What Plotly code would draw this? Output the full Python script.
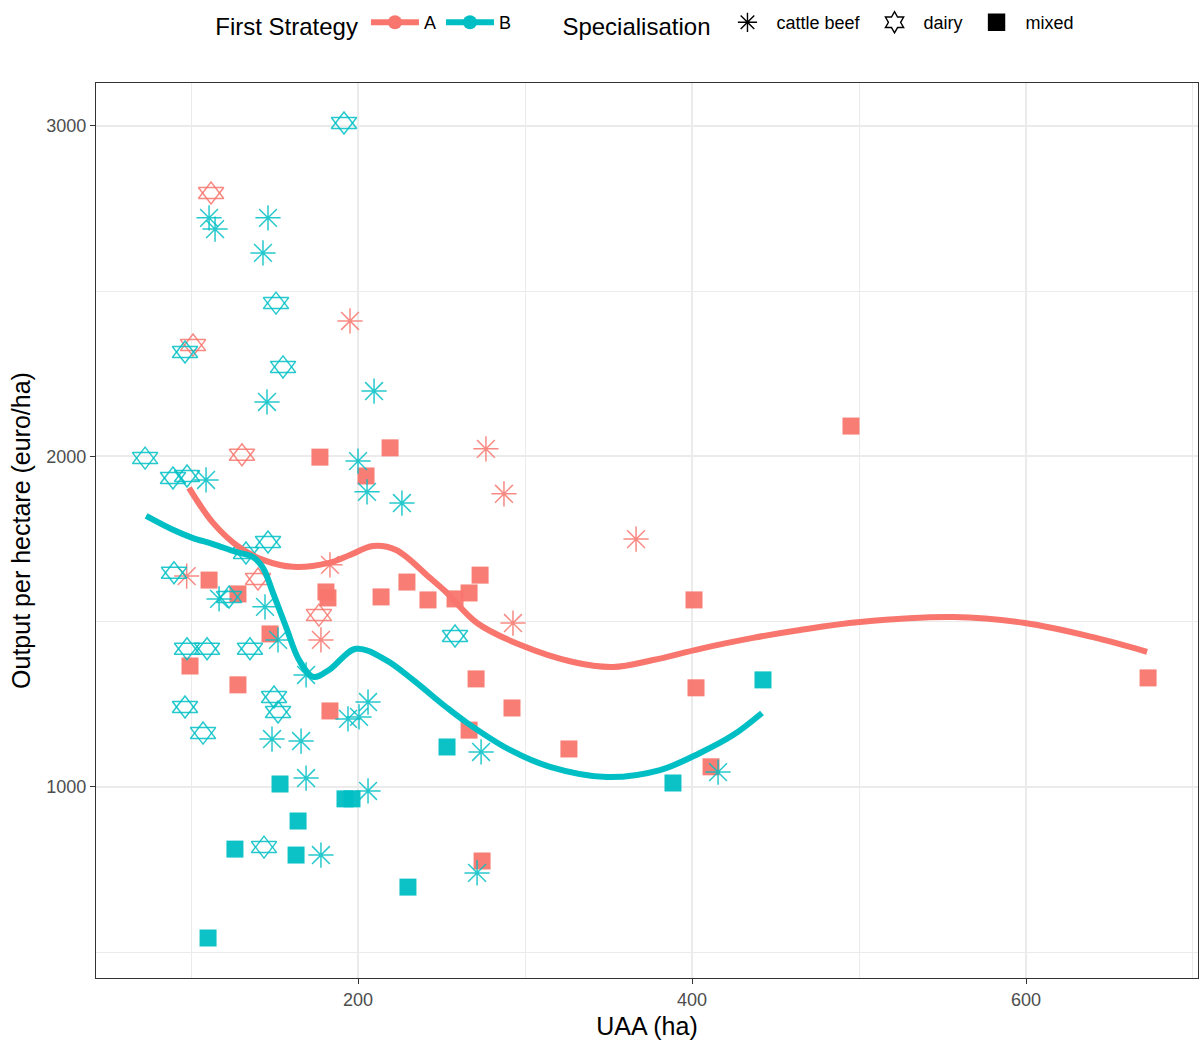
import plotly.graph_objects as go

# ---------------- data ----------------
a_beef_uaa = [195.2, 276.6, 287.4, 366.5, 292.8, 183.2, 177.8, 97.4]
a_beef_out = [2410, 2023, 1887, 1750, 1496, 1672, 1445, 1638]

a_dairy_uaa = [112.0, 101.2, 130.5, 140.1, 176.6]
a_dairy_out = [2797, 2337, 2005, 1629, 1520]

a_mixed_uaa = [495.2, 673.1, 401.2, 402.4, 411.4, 326.3, 292.2, 270.7, 266.5, 274.3,
               273.1, 266.5, 258.1, 241.9, 229.3, 213.8, 219.2, 204.8, 177.2, 180.8,
               182.0, 183.2, 147.3, 128.1, 110.8, 99.4, 128.1]
a_mixed_out = [2092, 1330, 1566, 1300, 1061, 1115, 1239, 1327, 1172, 776,
               1641, 1587, 1569, 1566, 1620, 1575, 2026, 1941, 1998, 1590,
               1572, 1230, 1463, 1584, 1626, 1366, 1309]

b_beef_uaa = [110.8, 114.4, 146.1, 143.1, 145.5, 209.6, 200.0, 205.4, 226.3, 109.0,
              116.8, 144.3, 152.1, 168.9, 194.0, 200.6, 206.0, 148.5, 165.9, 168.9,
              206.0, 177.8, 273.7, 271.3, 415.6]
b_beef_out = [2722, 2688, 2722, 2616, 2165, 2198, 1986, 1893, 1859, 1929,
              1569, 1545, 1445, 1339, 1206, 1212, 1257, 1145, 1139, 1027,
              988, 794, 1106, 740, 1045]

b_dairy_uaa = [191.6, 96.4, 150.9, 155.1, 72.5, 89.2, 97.6, 89.8, 132.9, 146.1,
               122.8, 97.6, 109.6, 135.3, 96.4, 107.2, 149.7, 152.1, 258.1, 143.7]
b_dairy_out = [3009, 2316, 2464, 2271, 1995, 1935, 1941, 1648, 1708, 1741,
               1575, 1418, 1418, 1418, 1242, 1163, 1272, 1227, 1457, 818]

b_mixed_uaa = [110.2, 126.3, 162.9, 164.1, 153.3, 192.2, 196.4, 229.9, 253.3, 388.6, 442.5]
b_mixed_out = [543, 812, 794, 897, 1009, 964, 964, 697, 1121, 1012, 1324]

# smoothed (loess) curves
a_curve_uaa = [98.8, 113.2, 128.7, 143.1, 161.1, 182.6, 195.2, 209.0, 222.8, 242.5,
               252.7, 271.3, 297.0, 328.7, 352.7, 376.6, 404.8, 436.5, 464.7, 500.6,
               556.9, 599.4, 639.5, 672.5]
a_curve_out = [1905, 1799, 1726, 1687, 1666, 1678, 1702, 1729, 1717, 1635,
               1590, 1496, 1430, 1378, 1363, 1384, 1418, 1451, 1475, 1499,
               1514, 1496, 1454, 1409]

b_curve_uaa = [73.1, 89.2, 101.2, 113.2, 126.9, 137.1, 143.1, 149.1, 156.9, 164.7,
               173.1, 182.6, 198.8, 216.8, 232.9, 252.7, 265.3, 291.0, 315.0, 349.1,
               380.8, 404.8, 424.6, 441.9]
b_curve_out = [1820, 1778, 1753, 1735, 1711, 1696, 1663, 1587, 1484, 1384,
               1333, 1354, 1418, 1384, 1324, 1242, 1194, 1112, 1061, 1030,
               1051, 1103, 1157, 1224]

strategies = ["A", "B"]
specialisations = ["cattle beef", "dairy", "mixed"]
x_ticks = [200, 400, 600]
y_ticks = [1000, 2000, 3000]

# ---------------- styles ----------------
RED = "#F8766D"
CYAN = "#00BFC4"
FONT = "Liberation Sans, Arial, sans-serif"

fig = go.Figure()


def add_beef(x, y, col):
    fig.add_trace(go.Scatter(
        x=x, y=y, mode="markers", showlegend=False, hoverinfo="x+y",
        marker=dict(symbol="asterisk-open", size=21, color=col, opacity=0.85,
                    line=dict(color=col, width=1.5))))


def add_dairy(x, y, col):
    for sym in ["triangle-up-open", "triangle-down-open"]:
        fig.add_trace(go.Scatter(
            x=x, y=y, mode="markers", showlegend=False, hoverinfo="x+y",
            marker=dict(symbol=sym, size=22, color=col, opacity=0.85,
                        line=dict(color=col, width=1.5))))


def add_mixed(x, y, col):
    fig.add_trace(go.Scatter(
        x=x, y=y, mode="markers", showlegend=False, hoverinfo="x+y",
        marker=dict(symbol="square", size=17, color=col, opacity=0.95,
                    line=dict(width=0))))


add_beef(a_beef_uaa, a_beef_out, RED)
add_dairy(a_dairy_uaa, a_dairy_out, RED)
add_mixed(a_mixed_uaa, a_mixed_out, RED)
add_beef(b_beef_uaa, b_beef_out, CYAN)
add_dairy(b_dairy_uaa, b_dairy_out, CYAN)
add_mixed(b_mixed_uaa, b_mixed_out, CYAN)

fig.add_trace(go.Scatter(x=a_curve_uaa, y=a_curve_out, mode="lines", showlegend=False,
                         line=dict(color=RED, width=6, shape="spline")))
fig.add_trace(go.Scatter(x=b_curve_uaa, y=b_curve_out, mode="lines", showlegend=False,
                         line=dict(color=CYAN, width=6, shape="spline")))

# legend entries: First Strategy
for name, col in zip(strategies, [RED, CYAN]):
    fig.add_trace(go.Scatter(
        x=[None], y=[None], mode="lines+markers", name=name, legend="legend",
        line=dict(color=col, width=6),
        marker=dict(symbol="circle", size=14, color=col)))

# legend entries: Specialisation
for name, sym in zip(specialisations, ["asterisk-open", "hexagram-open", "square"]):
    fig.add_trace(go.Scatter(
        x=[None], y=[None], mode="markers", name=name, legend="legend2",
        marker=dict(symbol=sym, size=16, color="black",
                    line=dict(color="black", width=1.4))))

axis_common = dict(
    showline=True, linecolor="#333333", linewidth=1.2, mirror=True,
    ticks="outside", ticklen=5, tickwidth=1.2, tickcolor="#333333",
    showgrid=True, gridcolor="#EBEBEB", gridwidth=1.8, zeroline=False,
    tickfont=dict(family=FONT, size=18, color="#4D4D4D"),
    automargin=False,
)

fig.update_layout(
    width=1203, height=1046,
    paper_bgcolor="white", plot_bgcolor="white",
    margin=dict(l=96, r=5, t=83, b=68, autoexpand=False),
    font=dict(family=FONT, color="black"),
    xaxis=dict(range=[43.1, 703], tickvals=x_ticks,
               minor=dict(dtick=100, tick0=0, showgrid=True, gridcolor="#EBEBEB",
                          gridwidth=1, ticks=""),
               title=dict(text="UAA (ha)", font=dict(family=FONT, size=25, color="black"),
                          standoff=8),
               **axis_common),
    yaxis=dict(range=[422, 3130], tickvals=y_ticks,
               minor=dict(dtick=500, tick0=0, showgrid=True, gridcolor="#EBEBEB",
                          gridwidth=1, ticks=""),
               title=dict(text="Output per hectare (euro/ha)",
                          font=dict(family=FONT, size=25, color="black"), standoff=8),
               **axis_common),
    legend=dict(orientation="h", x=0.1064, y=1.0647, xanchor="left", yanchor="middle",
                title=dict(text="First Strategy", side="left",
                           font=dict(family=FONT, size=24, color="black")),
                font=dict(family=FONT, size=18, color="black"),
                itemwidth=48, bgcolor="rgba(0,0,0,0)", tracegroupgap=0),
    legend2=dict(orientation="h", x=0.4214, y=1.0647, xanchor="left", yanchor="middle",
                 title=dict(text="Specialisation", side="left",
                            font=dict(family=FONT, size=24, color="black")),
                 font=dict(family=FONT, size=18, color="black"),
                 itemwidth=48, bgcolor="rgba(0,0,0,0)"),
)

fig.write_html("out.html", config={"displayModeBar": False},
               post_script="document.body.style.margin='0';document.body.style.overflow='hidden';")
